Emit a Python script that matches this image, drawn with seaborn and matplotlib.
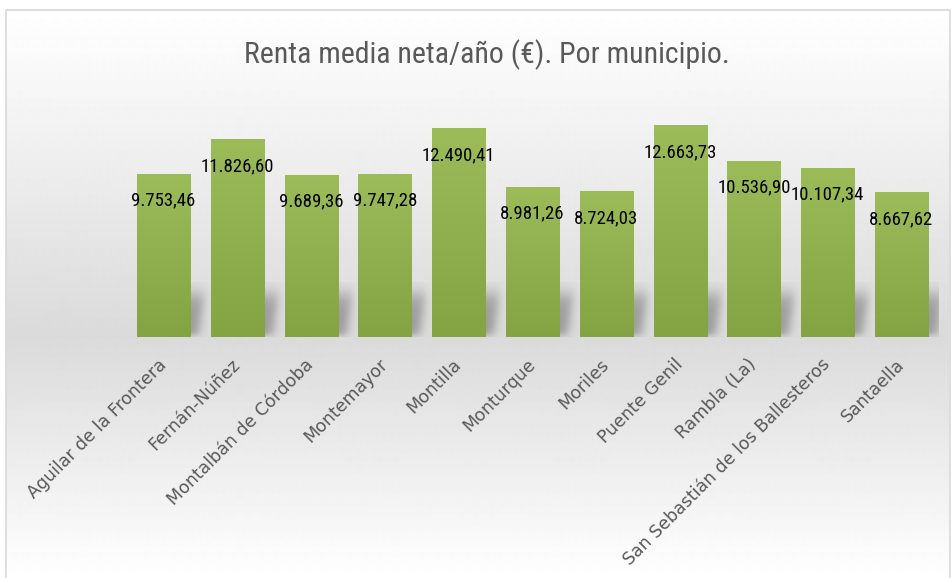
import numpy as np
import pandas as pd
import seaborn as sns
import matplotlib.pyplot as plt
from matplotlib.colors import LinearSegmentedColormap
from matplotlib.patches import Rectangle

municipios = ['Aguilar de la Frontera', 'Fernán-Núñez', 'Montalbán de Córdoba',
              'Montemayor', 'Montilla', 'Monturque', 'Moriles', 'Puente Genil',
              'Rambla (La)', 'San Sebastián de los Ballesteros', 'Santaella']
renta = [9753.46, 11826.60, 9689.36, 9747.28, 12490.41, 8981.26,
         8724.03, 12663.73, 10536.90, 10107.34, 8667.62]
titulo = 'Renta media neta/año (€). Por municipio.'

NARROW = ['Liberation Sans Narrow', 'Roboto Condensed', 'Roboto', 'DejaVu Sans']


def fmt_es(v):
    s = f'{v:,.2f}'
    return s.replace(',', 'X').replace('.', ',').replace('X', '.')


def sig(x, k):
    return 1 / (1 + np.exp(-x / k))


W, H = 953, 578
sns.set_style('white')
fig = plt.figure(figsize=(W / 100, H / 100), dpi=100)

# fondo con degradado (blanco -> gris en la base -> blanco)
bg = fig.add_axes([6 / W, 0, (950 - 6) / W, (H - 10) / H], zorder=-1)
rows = np.arange(H - 10)
base_row = 337 - 10
grey = np.where(rows <= base_row,
                255 - 37 * rows / base_row,
                218 + 37 * (rows - base_row) / (H - 10 - base_row))
bg.imshow(np.repeat(grey[:, None], 2, axis=1), cmap='gray', vmin=0, vmax=255,
          aspect='auto', extent=[0, 1, 0, 1], interpolation='bilinear')
bg.axis('off')

fig.add_artist(Rectangle((6 / W, -0.1), (950 - 6) / W, (H - 10) / H + 0.1,
                         transform=fig.transFigure, fill=False, ec='#d9d9d9', lw=1.2))

ax = fig.add_axes([126.6 / W, (H - 337) / H, (938.4 - 126.6) / W, 234.4 / H])
ax.set_facecolor('none')
df = pd.DataFrame({'municipio': municipios, 'renta': renta})
sns.barplot(data=df, x='municipio', y='renta', color='#8fb050', width=0.72,
            saturation=1, ax=ax, zorder=3)

px_x = 1 / 73.8          # unidades por pixel (x)
px_y = 14000 / 234.4     # unidades por pixel (y)

green = LinearSegmentedColormap.from_list('g', ['#84a444', '#9cbb59'])
shadow_cm = LinearSegmentedColormap.from_list('s', [(0, 0, 0, 0), (0, 0, 0, 1)])

for p in ax.patches:
    x0, w, h = p.get_x(), p.get_width(), p.get_height()
    p.set_edgecolor('none')
    grad = np.linspace(0, 1, 100)[:, None]
    im = ax.imshow(grad, cmap=green, extent=[x0, x0 + w, 0, h], origin='lower',
                   aspect='auto', zorder=3.5, interpolation='bilinear')
    im.set_clip_path(p)

    # sombra difusa a la derecha de cada barra
    wpx = w / px_x
    sh_w, sh_h = int(wpx + 35), 55
    u = np.arange(sh_w)[None, :] + 0.5
    v = np.arange(sh_h)[:, None] + 0.5
    redge = wpx + 11 + (v - 20) * 0.15
    mx = sig(u - 10, 3) * sig(redge - u, 3)
    my = sig(v - 2, 2) * sig(43 - v, 5)
    alpha = mx * my * 0.30
    ax.imshow(alpha, cmap=shadow_cm, vmin=0, vmax=1, origin='lower',
              extent=[x0, x0 + sh_w * px_x, 0, sh_h * px_y], aspect='auto',
              zorder=2, interpolation='bilinear')

    ax.annotate(fmt_es(h), (x0 + w / 2, h), xytext=(0, -27), textcoords='offset pixels',
                ha='center', va='center', fontsize=13.5, fontweight='normal',
                color='black', family=NARROW, zorder=5)

ax.set_ylim(0, 14000)
ax.set_xlim(-0.5, len(municipios) - 0.5)
sns.despine(ax=ax, left=True, bottom=True)
ax.set_yticks([])
ax.set_xlabel('')
ax.set_ylabel('')
ax.tick_params(axis='x', length=0, pad=18, labelsize=12.5, labelcolor='#595959')
plt.setp(ax.get_xticklabels(), rotation=45, ha='right', va='center',
         rotation_mode='anchor', family='DejaVu Sans')

fig.text(487 / W, 1 - 55 / H, titulo, ha='center', va='center', fontsize=21.5,
         color='#595959', family=NARROW)

fig.savefig('out.png', dpi=100)
